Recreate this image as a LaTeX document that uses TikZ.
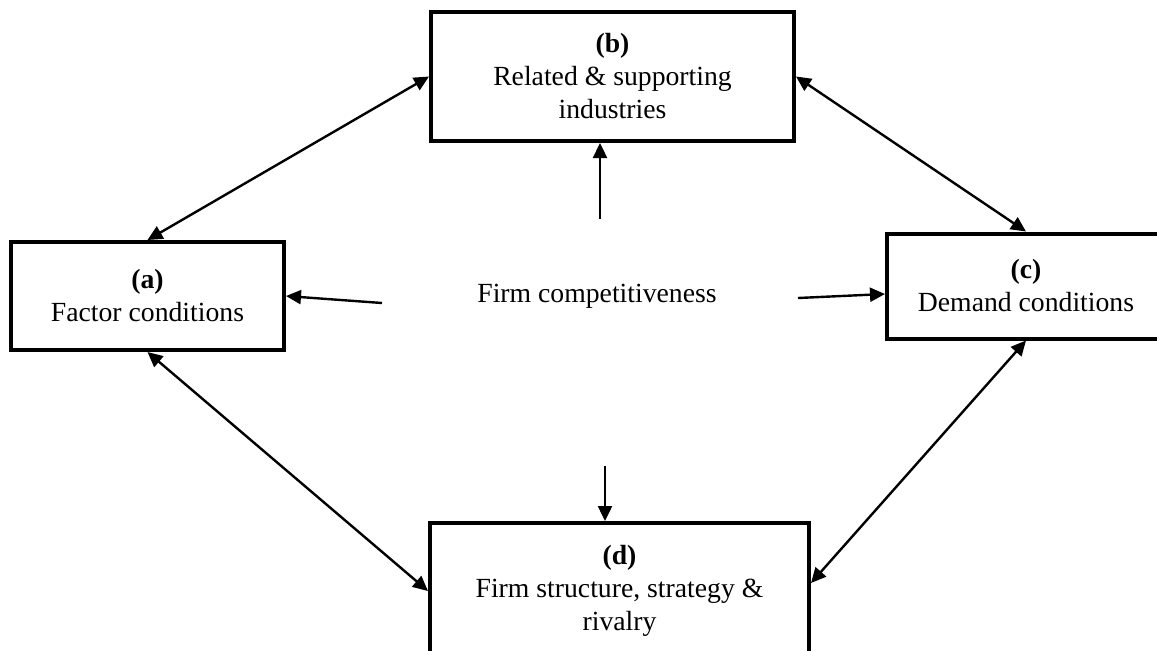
\documentclass[tikz,border=0pt]{standalone}
\usepackage{fontspec}
\setmainfont{Liberation Serif}
\usetikzlibrary{arrows.meta}
\tikzset{>={Triangle[length=7.5pt,width=7pt]},
factor/.style={rectangle, draw, line width=2pt, align=center, inner sep=2pt},
every node/.style={font=\fontsize{13.85}{16.5}\selectfont}}

\begin{document}
\begin{tikzpicture}[x=0.5pt, y=-0.5pt, line width=1.2pt]
    \useasboundingbox (0,0) rectangle (1157,650);
    \clip (0,0) rectangle (1157,650);

    % Nodes
    \node[factor, minimum width=136.5pt, minimum height=54pt] (a) at (147.5,296) {\textbf{(a)}\\ Factor conditions};
    \node[factor, minimum width=181.5pt, minimum height=64.5pt] (b) at (612.5,76.5) {\textbf{(b)}\\ Related \& supporting\\ industries};
    \node[factor, minimum width=139pt, minimum height=52.5pt] (c) at (1026,286) {\textbf{(c)}\\ Demand conditions};
    \node[factor, minimum width=189.5pt, minimum height=68pt] (d) at (619.5,591) {\textbf{(d)}\\ Firm structure, strategy \&\\ rivalry};
    \node (fc) at (597,296) {Firm competitiveness};

    % Free ends
    \coordinate (up) at (600,219);
    \coordinate (lt) at (382,303);
    \coordinate (rt) at (798,298);
    \coordinate (dn) at (605,466);

    % Edges
    \path (a.north) edge[<->] (b.west)
          (b.east) edge[<->] (c.north)
          (a.south) edge[<->] (d.west)
          (c.south) edge[<->] ([yshift=4pt]d.east)
          (up) edge[->] (up |- b.south)
          (lt) edge[->] (a.east)
          (rt) edge[->] ([yshift=-4pt]c.west)
          (dn) edge[->] (dn |- d.north);
\end{tikzpicture}
\end{document}
